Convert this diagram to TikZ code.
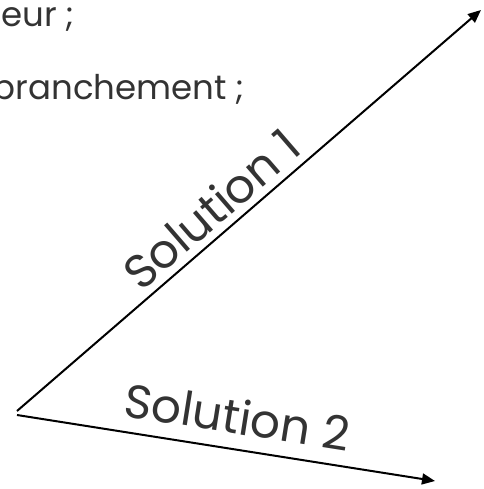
\documentclass[tikz,border=0pt]{standalone}
\usepackage{fontspec}
\setmainfont{Poppins}
\usetikzlibrary{arrows.meta}
\definecolor{textgray}{HTML}{333333}
\begin{document}
\begin{tikzpicture}[x=1pt,y=-1pt,
  arrowline/.style={line width=2pt,-{Triangle[length=13pt,width=11pt]}},
  lbl/.style={text=textgray,font=\fontsize{47}{52}\selectfont,sloped,inner sep=0pt},
  toptext/.style={text=textgray,font=\fontsize{34}{40}\selectfont,inner sep=0pt,anchor=base east}]
\useasboundingbox (0,0) rectangle (483,489);
\clip (0,0) rectangle (483,489);
\coordinate (o1) at (17,411);
\coordinate (o2) at (17,415);
\coordinate (t1) at (481,10);
\coordinate (t2) at (435,481);
\node[toptext] (l1) at (75,27) {eur ;};
\node[toptext] (l2) at (245,100) {branchement ;};
\draw[arrowline] (o1) -- (t1) node[lbl,pos=0.455,above=7pt] (s1) {Solution 1};
\draw[arrowline] (o2) -- (t2) node[lbl,pos=0.515,above=14pt] (s2) {Solution 2};
\end{tikzpicture}
\end{document}
